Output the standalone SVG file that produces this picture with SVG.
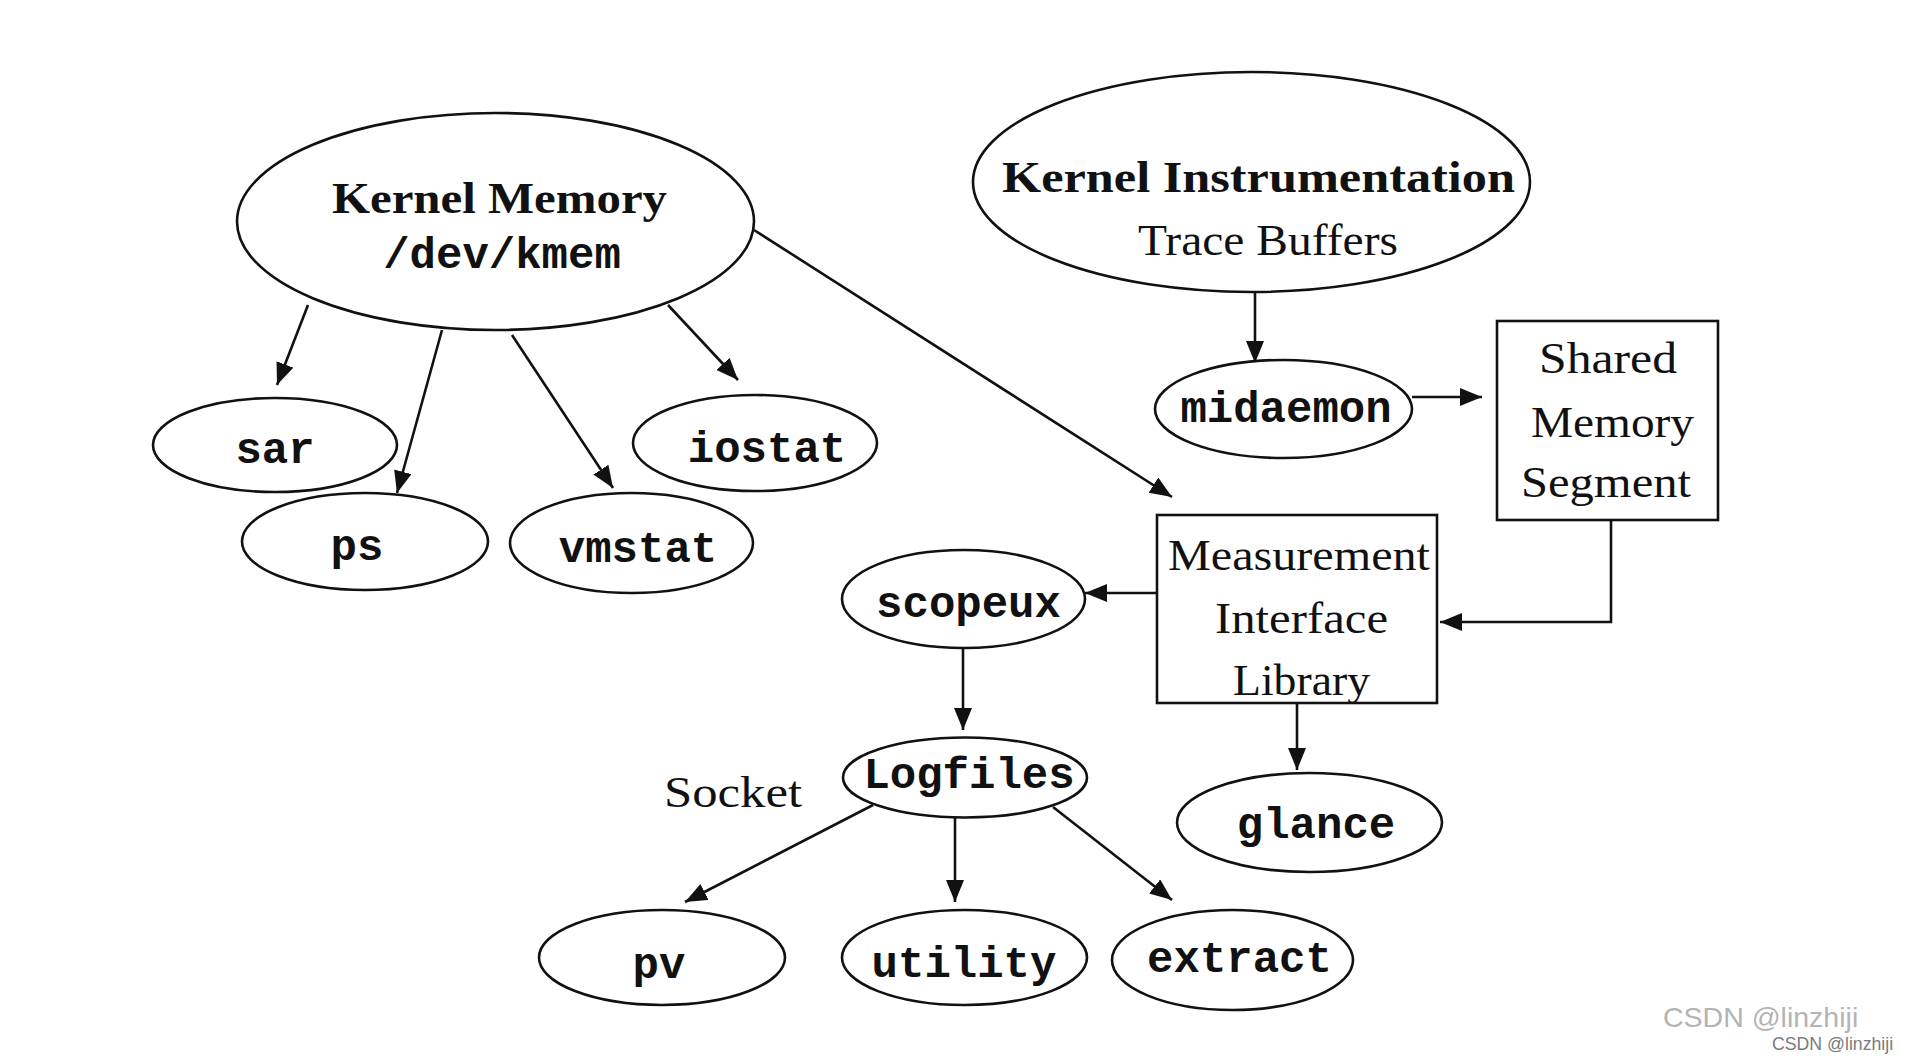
<svg xmlns="http://www.w3.org/2000/svg" width="1908" height="1064" viewBox="0 0 1908 1064">
<defs>
<marker id="arr" markerUnits="userSpaceOnUse" markerWidth="24" markerHeight="20" refX="22" refY="9" orient="auto">
<path d="M0,0 L22,9 L0,18 z" fill="#111"/>
</marker>
<style>
.sh{fill:#fff;stroke:#111;stroke-width:2.6}
.mono{font-family:"Liberation Mono","Courier New",monospace;font-weight:bold;font-size:44px;fill:#111;text-anchor:middle}
.serif{font-family:"Liberation Serif","Times New Roman",serif;font-size:45px;fill:#111}
.bold{font-weight:bold}
.con{fill:none;stroke:#111;stroke-width:2.6;marker-end:url(#arr)}
</style>
</defs>
<rect width="1908" height="1064" fill="#fff"/>
<g id="connectors">
<line class="con" x1="308" y1="305" x2="277" y2="385"/>
<line class="con" x1="442" y1="330" x2="397" y2="493"/>
<line class="con" x1="512" y1="335" x2="613" y2="488"/>
<line class="con" x1="668" y1="305" x2="738" y2="380"/>
<line class="con" x1="754" y1="230" x2="1172" y2="497"/>
<line class="con" x1="1255" y1="265" x2="1255" y2="363"/>
<line class="con" x1="1412" y1="397" x2="1482" y2="397"/>
<polyline class="con" points="1611,518 1611,622 1440,622"/>
<line class="con" x1="1172" y1="593" x2="1085" y2="593"/>
<line class="con" x1="963" y1="648" x2="963" y2="730"/>
<line class="con" x1="1297" y1="703" x2="1297" y2="770"/>
<line class="con" x1="873" y1="805" x2="685" y2="902"/>
<line class="con" x1="955" y1="817" x2="955" y2="902"/>
<line class="con" x1="1053" y1="807" x2="1172" y2="900"/>
</g>
<g id="kernel-memory">
<ellipse class="sh" cx="495.5" cy="221.5" rx="258.5" ry="108.5"/>
<text class="serif bold" x="332" y="213" textLength="335" lengthAdjust="spacingAndGlyphs">Kernel Memory</text>
<text class="mono" x="502" y="268">/dev/kmem</text>
</g>
<g id="sar">
<ellipse class="sh" cx="275" cy="445" rx="122" ry="47"/>
<text class="mono" x="275" y="463">sar</text>
</g>
<g id="ps">
<ellipse class="sh" cx="365" cy="541.5" rx="123" ry="48.5"/>
<text class="mono" x="357" y="560">ps</text>
</g>
<g id="vmstat">
<ellipse class="sh" cx="631.5" cy="543" rx="121.5" ry="50"/>
<text class="mono" x="638" y="562">vmstat</text>
</g>
<g id="iostat">
<ellipse class="sh" cx="755" cy="443" rx="122" ry="48"/>
<text class="mono" x="767" y="462">iostat</text>
</g>
<g id="kernel-instrumentation">
<ellipse class="sh" cx="1251.5" cy="182" rx="278.5" ry="110"/>
<text class="serif bold" x="1002" y="192" textLength="513" lengthAdjust="spacingAndGlyphs">Kernel Instrumentation</text>
<text class="serif" x="1138" y="255" font-size="44" textLength="260" lengthAdjust="spacingAndGlyphs">Trace Buffers</text>
</g>
<g id="midaemon">
<ellipse class="sh" cx="1283.5" cy="409" rx="128.5" ry="49"/>
<text class="mono" x="1286" y="422">midaemon</text>
</g>
<g id="shared-memory-segment">
<rect class="sh" x="1497" y="321" width="221" height="199"/>
<text class="serif" x="1539" y="373" textLength="138" lengthAdjust="spacingAndGlyphs">Shared</text>
<text class="serif" x="1531" y="437" textLength="163" lengthAdjust="spacingAndGlyphs">Memory</text>
<text class="serif" x="1521" y="497" textLength="170" lengthAdjust="spacingAndGlyphs">Segment</text>
</g>
<g id="measurement-interface-library">
<rect class="sh" x="1157" y="515" width="280" height="188"/>
<text class="serif" x="1168" y="570" textLength="262" lengthAdjust="spacingAndGlyphs">Measurement</text>
<text class="serif" x="1215" y="633" textLength="173" lengthAdjust="spacingAndGlyphs">Interface</text>
<text class="serif" x="1233" y="695" textLength="137" lengthAdjust="spacingAndGlyphs">Library</text>
</g>
<g id="scopeux">
<ellipse class="sh" cx="963.5" cy="599" rx="121.5" ry="49"/>
<text class="mono" x="968.5" y="617">scopeux</text>
</g>
<g id="logfiles">
<ellipse class="sh" cx="965" cy="777.5" rx="122" ry="40"/>
<text class="mono" x="969" y="788">Logfiles</text>
</g>
<g id="socket-label">
<text class="serif" x="664" y="807" textLength="138" lengthAdjust="spacingAndGlyphs">Socket</text>
</g>
<g id="glance">
<ellipse class="sh" cx="1309.5" cy="822.5" rx="132.5" ry="49.5"/>
<text class="mono" x="1316" y="838">glance</text>
</g>
<g id="pv">
<ellipse class="sh" cx="662" cy="957.5" rx="123" ry="47.5"/>
<text class="mono" x="659" y="978">pv</text>
</g>
<g id="utility">
<ellipse class="sh" cx="964.5" cy="957.5" rx="122.5" ry="47.5"/>
<text class="mono" x="964" y="977">utility</text>
</g>
<g id="extract">
<ellipse class="sh" cx="1232.5" cy="960" rx="120.5" ry="50"/>
<text class="mono" x="1239.5" y="972">extract</text>
</g>
<g id="watermark">
<text x="1663" y="1027" font-family="'Liberation Sans',Arial,sans-serif" font-size="28.5" fill="#b4b4b4">CSDN @linzhiji</text>
<text x="1772" y="1050" font-family="'Liberation Sans',Arial,sans-serif" font-size="17.7" fill="#7a7a7a">CSDN @linzhiji</text>
</g>
</svg>
